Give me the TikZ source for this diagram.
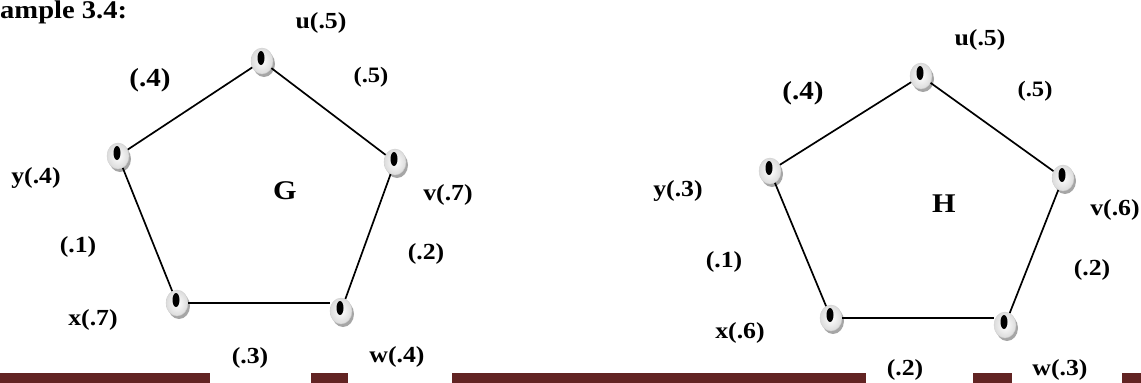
\documentclass[tikz,border=0pt]{standalone}
\usepackage{fontspec}
\setmainfont{Liberation Serif}[FakeStretch=1.12]
\usetikzlibrary{shapes.geometric,shadows}
\definecolor{barred}{HTML}{622423}
\definecolor{ringedge}{HTML}{D0D0D0}
\tikzset{
  ring/.style={ellipse, minimum width=22pt, minimum height=26pt, inner sep=0pt,
    inner color=white, outer color=black!14, draw=ringedge, line width=0.4pt,
    drop shadow={shadow xshift=2pt, shadow yshift=-3pt, fill=black!35, opacity=1}},
  dot/.style={ellipse, minimum width=7pt, minimum height=14pt, inner sep=0pt, fill=black},
  edge/.style={line width=1.7pt, black},
  lbl/.style={inner sep=0pt, font=\fontsize{23}{26}\selectfont\bfseries},
  biglbl/.style={inner sep=0pt, font=\fontsize{26}{30}\selectfont\bfseries},
  smalllbl/.style={inner sep=0pt, font=\fontsize{22}{25}\selectfont\bfseries},
  namelbl/.style={inner sep=0pt, font=\fontsize{27}{30}\selectfont\bfseries},
  bar/.style={fill=barred, draw=none}
}
\begin{document}
\begin{tikzpicture}[x=1pt,y=-1pt]
\useasboundingbox (0,0) rectangle (1141,383);
\node[inner sep=0pt, anchor=base west, font=\fontsize{25.5}{28}\selectfont\bfseries] (title) at (0,18) {ample 3.4:};

% ---------- Graph G ----------
\node[ring] (Gu) at (262,61) {};
\node[ring] (Gy) at (118,156) {};
\node[ring] (Gv) at (395,162) {};
\node[ring] (Gx) at (177,303) {};
\node[ring] (Gw) at (341,311) {};
\draw[edge] (Gy) -- (Gu);
\draw[edge] (Gu) -- (Gv);
\draw[edge] (Gv) -- (Gw);
\draw[edge] (Gx) -- (Gy);
\draw[edge] (Gx.east) -- (Gx.east -| Gw.west);
\node[dot] (Gud) at (261,58) {};
\node[dot] (Gyd) at (117,153) {};
\node[dot] (Gvd) at (394,159) {};
\node[dot] (Gxd) at (176,300) {};
\node[dot] (Gwd) at (340,308) {};

\node[lbl] (GuL) at (321,23) {u(.5)};
\node[biglbl] (GeYU) at (150,80) {(.4)};
\node[smalllbl] (GeUV) at (371,77) {(.5)};
\node[lbl] (GyL) at (36,178) {y(.4)};
\node[namelbl] (Gname) at (285,191) {G};
\node[lbl] (GvL) at (448,195) {v(.7)};
\node[lbl] (GeXY) at (78,247) {(.1)};
\node[lbl] (GeVW) at (426,254) {(.2)};
\node[lbl] (GxL) at (93,320) {x(.7)};
\node[lbl] (GeWX) at (250,358) {(.3)};
\node[lbl] (GwL) at (397,357) {w(.4)};

% ---------- Graph H ----------
\node[ring] (Hu) at (921,76) {};
\node[ring] (Hy) at (770,171) {};
\node[ring] (Hv) at (1063,178) {};
\node[ring] (Hx) at (831,318) {};
\node[ring] (Hw) at (1005,325) {};
\draw[edge] (Hy) -- (Hu);
\draw[edge] (Hu) -- (Hv);
\draw[edge] (Hv) -- (Hw);
\draw[edge] (Hx) -- (Hy);
\draw[edge] (Hx.east) -- (Hx.east -| Hw.west);
\node[dot] (Hud) at (920,73) {};
\node[dot] (Hyd) at (769,168) {};
\node[dot] (Hvd) at (1062,175) {};
\node[dot] (Hxd) at (830,315) {};
\node[dot] (Hwd) at (1004,322) {};

\node[lbl] (HuL) at (980,40) {u(.5)};
\node[biglbl] (HeYU) at (803,93) {(.4)};
\node[smalllbl] (HeUV) at (1035,91) {(.5)};
\node[lbl] (HyL) at (678,191) {y(.3)};
\node[namelbl] (Hname) at (944,204) {H};
\node[lbl] (HvL) at (1115,210) {v(.6)};
\node[lbl] (HeXY) at (724,262) {(.1)};
\node[lbl] (HeVW) at (1092,270) {(.2)};
\node[lbl] (HxL) at (740,333) {x(.6)};
\node[lbl] (HeWX) at (905,370) {(.2)};
\node[lbl] (HwL) at (1060,370) {w(.3)};

% ---------- bottom bars ----------
\fill[bar] (0,373) rectangle (210,383);
\fill[bar] (311,373) rectangle (348,383);
\fill[bar] (452,373) rectangle (866,383);
\fill[bar] (973,373) rectangle (1012,383);
\fill[bar] (1122,373) rectangle (1141,383);
\end{tikzpicture}
\end{document}
